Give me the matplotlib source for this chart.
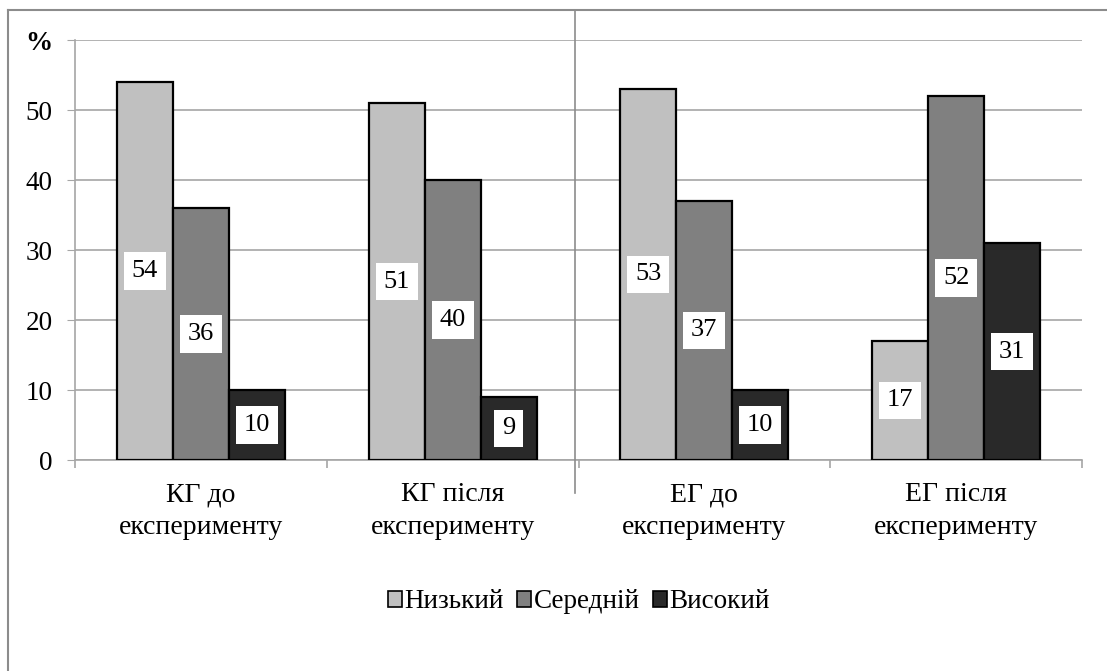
import matplotlib
matplotlib.use("Agg")
import matplotlib.pyplot as plt
from matplotlib.lines import Line2D
from matplotlib.patches import Patch
import numpy as np

categories = ["КГ до\nексперименту", "КГ після\nексперименту",
              "ЕГ до\nексперименту", "ЕГ після\nексперименту"]
series_names = ["Низький", "Середній", "Високий"]
low = [54, 51, 53, 17]
mid = [36, 40, 37, 52]
high = [10, 9, 10, 31]
series_values = [low, mid, high]
y_ticks = [0, 10, 20, 30, 40, 50, 60]
y_tick_labels = ["0", "10", "20", "30", "40", "50", "%"]

colors = ["#C0C0C0", "#808080", "#292929"]
grid_color = "#A6A6A6"

plt.rcParams["font.family"] = ["Liberation Serif", "DejaVu Serif"]

W, H = 1107, 671
fig = plt.figure(figsize=(W / 100, H / 100), dpi=100)

# plot area in pixels
x0, x1 = 75, 1082
y_top, y_bot = 40, 460
ax = fig.add_axes([x0 / W, (H - y_bot) / H, (x1 - x0) / W, (y_bot - y_top) / H])

n = len(series_names)
x = np.arange(len(categories))
bar_w = 1.0 / (n + 1.5)
for i, (name, vals) in enumerate(zip(series_names, series_values)):
    offs = (i - (n - 1) / 2) * bar_w
    bars = ax.bar(x + offs, vals, width=bar_w, color=colors[i],
                  edgecolor="black", linewidth=1.6, label=name, zorder=3)
    for b, v in zip(bars, vals):
        ax.text(b.get_x() + b.get_width() / 2, v / 2, str(v),
                ha="center", va="center", fontsize=19, color="black", zorder=5,
                bbox=dict(boxstyle="square,pad=0.3", facecolor="white",
                          edgecolor="none"))

ax.set_xlim(-0.5, len(categories) - 0.5)
ax.set_ylim(0, 60)
ax.set_yticks(y_ticks)
ax.set_yticklabels(y_tick_labels, fontsize=19.5)
for lbl in ax.get_yticklabels():
    if lbl.get_text() == "%":
        lbl.set_fontweight("bold")
ax.yaxis.grid(True, color=grid_color, linewidth=1.2, zorder=0)
ax.tick_params(axis="y", direction="out", length=6, color=grid_color, pad=10)

# category labels and boundary ticks
ax.set_xticks(x)
ax.set_xticklabels(categories, fontsize=20, linespacing=1.4)
ax.tick_params(axis="x", length=0, pad=16)
ax.set_xticks(np.arange(len(categories) + 1) - 0.5, minor=True)
ax.tick_params(axis="x", which="minor", direction="out", length=6,
               color=grid_color, width=1.2)

for s in ["top", "right"]:
    ax.spines[s].set_visible(False)
ax.spines["left"].set_color(grid_color)
ax.spines["bottom"].set_color(grid_color)
ax.spines["left"].set_linewidth(1.2)
ax.spines["bottom"].set_linewidth(1.2)

# chart border (left and top) and stray vertical line
fig.add_artist(Line2D([8 / W, 8 / W], [0, 1 - 10 / H], color="#8C8C8C", linewidth=1.5))
fig.add_artist(Line2D([8 / W, 1], [1 - 10 / H, 1 - 10 / H], color="#8C8C8C", linewidth=1.5))
fig.add_artist(Line2D([575 / W, 575 / W], [1 - 493 / H, 1 - 10 / H], color="#8C8C8C", linewidth=1.2))

handles = [Patch(facecolor=c, edgecolor="black", linewidth=1.2) for c in colors]
fig.legend(handles, series_names, loc="center", bbox_to_anchor=(579 / W, 1 - 602 / H),
           ncol=3, frameon=False, fontsize=19.5, handlelength=0.5, handleheight=0.5,
           handletextpad=0.1, columnspacing=0.5)

fig.savefig("out.png", dpi=100)
